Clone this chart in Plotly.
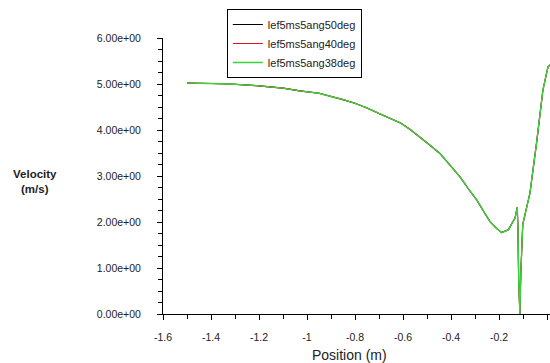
import plotly.graph_objects as go

# Data
position = [-1.5, -1.45, -1.4, -1.32, -1.25, -1.2, -1.1, -1.03, -0.95, -0.89,
            -0.85, -0.8, -0.75, -0.70, -0.65, -0.61, -0.57, -0.53, -0.49, -0.446,
            -0.40, -0.3625, -0.33, -0.293, -0.265, -0.2375, -0.21, -0.189,
            -0.161, -0.133, -0.124, -0.121, -0.118, -0.113, -0.109, -0.101,
            -0.096, -0.071, -0.042, -0.017, 0.004, 0.02]
velocity = [5.02, 5.02, 5.01, 5.0, 4.98, 4.96, 4.91, 4.85, 4.80, 4.72,
            4.66, 4.58, 4.48, 4.36, 4.25, 4.15, 4.01, 3.85, 3.68, 3.49,
            3.21, 2.98, 2.74, 2.48, 2.24, 2.01, 1.86, 1.77,
            1.83, 2.09, 2.32, 1.85, 0.75, 0.0, 0.9, 1.95,
            2.06, 2.63, 3.78, 4.87, 5.37, 5.45]

series_names = ["lef5ms5ang50deg", "lef5ms5ang40deg", "lef5ms5ang38deg"]
series_colors = ["#000000", "#e8102a", "#3cd23c"]
series_widths = [1.1, 1.1, 1.4]

y_tickvals = [0, 1, 2, 3, 4, 5, 6]
y_ticktext = ["0.00e+00", "1.00e+00", "2.00e+00", "3.00e+00", "4.00e+00", "5.00e+00", "6.00e+00"]
x_tickvals = [-1.6, -1.4, -1.2, -1.0, -0.8, -0.6, -0.4, -0.2, 0.0]
x_ticktext = ["-1.6", "-1.4", "-1.2", "-1", "-0.8", "-0.6", "-0.4", "-0.2", "0"]

FONT = "Liberation Sans, Arial, sans-serif"

fig = go.Figure()
for name, color, w in zip(series_names, series_colors, series_widths):
    fig.add_trace(go.Scatter(x=position, y=velocity, mode="lines", name=name,
                             line=dict(color=color, width=w)))

axis_common = dict(showgrid=False, zeroline=False, showline=True, linecolor="black",
                   linewidth=1, ticks="outside", ticklen=5, tickcolor="black",
                   tickfont=dict(family=FONT, size=10.5, color="#222"))

fig.update_layout(
    width=550, height=363,
    margin=dict(l=163, r=0, t=38, b=49),
    paper_bgcolor="white", plot_bgcolor="white",
    showlegend=True,
    legend=dict(x=0.165, y=1.105, xanchor="left", yanchor="top",
                bordercolor="black", borderwidth=1, bgcolor="white",
                font=dict(family=FONT, size=11, color="#222"),
                tracegroupgap=0, itemwidth=30),
    xaxis=dict(range=[-1.6, 0.0125], tickvals=x_tickvals, ticktext=x_ticktext,
               minor=dict(dtick=0.1, tick0=-1.6, ticks="outside", ticklen=4, tickcolor="black"),
               ticklabelstandoff=8, **axis_common),
    yaxis=dict(range=[0, 6], tickvals=y_tickvals, ticktext=y_ticktext,
               minor=dict(dtick=0.25, tick0=0, ticks="outside", ticklen=4, tickcolor="black"),
               ticklabelstandoff=14, **axis_common),
    annotations=[
        dict(text="Position (m)", xref="paper", yref="paper", x=0.483, y=-0.149,
             xanchor="center", yanchor="middle", showarrow=False,
             font=dict(family=FONT, size=14, color="#222")),
        dict(text="<b>Velocity</b><br><b>(m/s)</b>", xref="paper", yref="paper",
             x=(35 - 163) / 387, y=(314 - 181) / 276, xanchor="center", yanchor="middle",
             showarrow=False, align="center",
             font=dict(family=FONT, size=11.5, color="#222")),
    ],
)

fig.write_html("out.html")
